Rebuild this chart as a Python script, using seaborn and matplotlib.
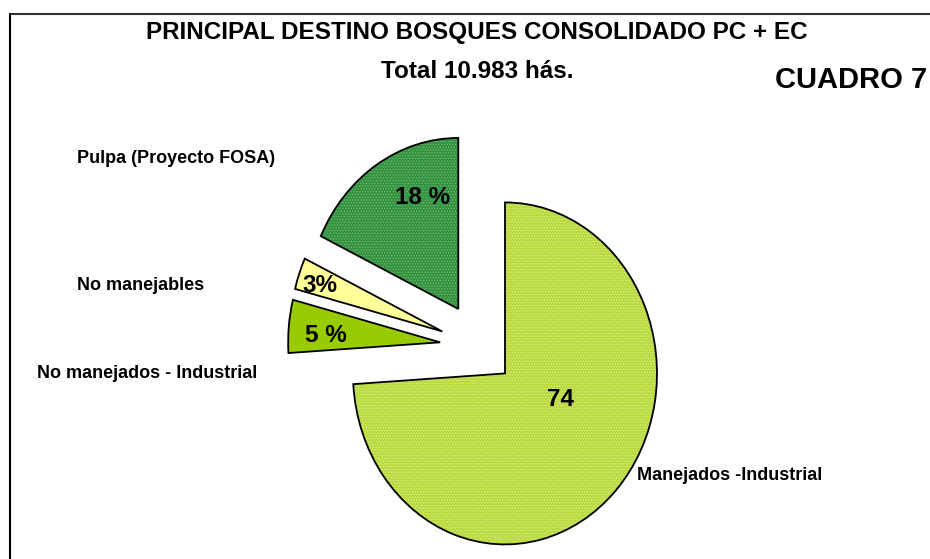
import matplotlib
matplotlib.use("Agg")
import matplotlib.pyplot as plt
import seaborn as sns

# ── Data ──────────────────────────────────────────────────────────────
categories = ["Manejados -Industrial", "No manejados - Industrial",
              "No manejables", "Pulpa (Proyecto FOSA)"]
shares = [74, 5, 3, 18]
pct_labels = ["74", "5 %", "3%", "18 %"]

colors = ["#b8da3c", "#99cc00", "#ffff99", "#33913f"]
dot_colors = ["#d9ed8e", "none", "none", "#6cbb73"]
explode = [0.23, 0.26, 0.26, 0.26]

sns.set_theme(style="white")
plt.rcParams["font.family"] = ["Liberation Sans", "DejaVu Sans"]
plt.rcParams["text.color"] = "black"
plt.rcParams["hatch.linewidth"] = 0.6

W, H = 930, 559
RX, RY = 152, 171          # pie radius in pixels (stretched pie)
fig = plt.figure(figsize=(W / 100, H / 100), dpi=100)
ax = fig.add_axes([0, 0, 1, 1])

center = (479.5 / RX, (H - 346.5) / RY)
wedges, _ = ax.pie(shares, colors=colors, explode=explode, startangle=90,
                   counterclock=False, center=center, radius=1,
                   wedgeprops=dict(linewidth=0))

# fine dotted texture on the two patterned slices
tex, _ = ax.pie(shares, explode=explode, startangle=90, counterclock=False,
                center=center, radius=1,
                hatch=["......", None, None, "......"],
                wedgeprops=dict(fill=False, linewidth=0))
for w, c in zip(tex, dot_colors):
    if c == "none":
        w.set_visible(False)
    else:
        w.set_edgecolor(c)
        w.set_linewidth(0)
        w.set_zorder(2)

# black outlines on top
ol, _ = ax.pie(shares, explode=explode, startangle=90, counterclock=False,
               center=center, radius=1,
               wedgeprops=dict(fill=False, edgecolor="black", linewidth=1.3))
for w in ol:
    w.set_zorder(3)

ax.set_xlim(0, W / RX)
ax.set_ylim(0, H / RY)
ax.set_aspect("auto")
ax.axis("off")


def px(x, y):
    return x / W, 1 - y / H


# percentage labels
pct_pos = [(560, 399), (326, 335), (320, 286), (423, 197)]
for lab, (x, y) in zip(pct_labels, pct_pos):
    fig.text(*px(x, y), lab, ha="center", va="center", fontsize=17.5,
             fontweight="bold", zorder=5)

# category labels
cat_pos = [(637, 476), (37, 373), (77, 285), (77, 158)]
for lab, (x, y) in zip(categories, cat_pos):
    fig.text(*px(x, y), lab, ha="left", va="center", fontsize=13,
             fontweight="bold")

# titles
fig.text(*px(477, 32), "PRINCIPAL DESTINO BOSQUES CONSOLIDADO PC + EC",
         ha="center", va="center", fontsize=17.5, fontweight="bold")
fig.text(*px(477, 72), "Total 10.983 hás.", ha="center", va="center",
         fontsize=17.5, fontweight="bold")
fig.text(*px(775, 80), "CUADRO 7", ha="left", va="center", fontsize=21,
         fontweight="bold")

# chart frame (top and left edges visible)
fig.add_artist(plt.Line2D([10 / W, 1], [1 - 14 / H, 1 - 14 / H],
                          color="#333333", linewidth=1.5))
fig.add_artist(plt.Line2D([10 / W, 10 / W], [0, 1 - 14 / H],
                          color="black", linewidth=1.5))

fig.savefig("out.png", dpi=100)
